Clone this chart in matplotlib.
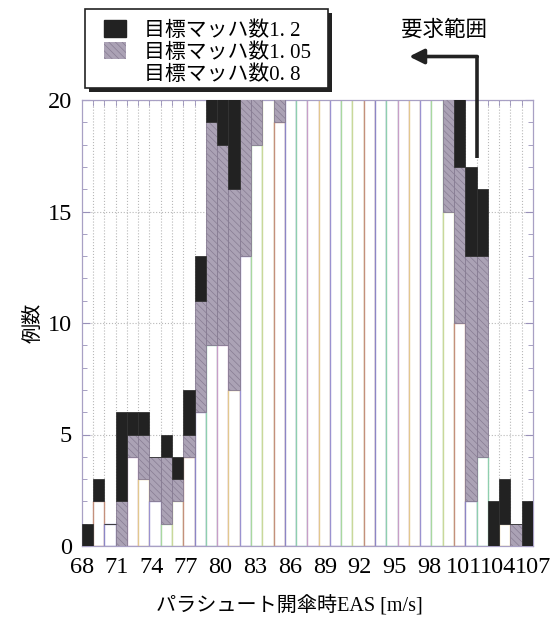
import numpy as np
import matplotlib
matplotlib.use('Agg')
import matplotlib.pyplot as plt
from matplotlib.patches import Patch, Rectangle

# EAS bins [m/s]
eas = list(range(68, 108))

# counts per bin, stacked: Mach 0.8 (bottom), 1.05 (middle), 1.2 (top)
mach08 = [0, 2, 1, 0, 4, 3, 2, 1, 2, 4,
          6, 9, 9, 7, 13, 18, 21, 19, 23, 28,
          33, 38, 42, 45, 46, 44, 41, 37, 32, 27,
          24, 21, 15, 10, 2, 4, 0, 1, 0, 0]
mach105 = [0, 0, 0, 2, 1, 2, 2, 3, 1, 1,
           5, 10, 9, 9, 8, 3, 0, 2, 0, 0,
           0, 0, 0, 0, 0, 0, 0, 0, 0, 0,
           0, 0, 6, 7, 11, 9, 0, 0, 1, 0]
mach12 = [1, 1, 0, 4, 1, 1, 0, 1, 1, 2,
          2, 2, 3, 5, 0, 0, 0, 0, 0, 0,
          0, 0, 0, 0, 0, 0, 0, 0, 0, 0,
          0, 0, 0, 4, 4, 3, 2, 2, 0, 2]

labels = ['目標マッハ数1. 2', '目標マッハ数1. 05', '目標マッハ数0. 8']
xticks = list(range(68, 108, 3))

plt.rcParams['font.family'] = ['Liberation Serif', 'Noto Sans CJK JP']
plt.rcParams['hatch.linewidth'] = 0.5

W, H = 555, 619
fig = plt.figure(figsize=(W / 100, H / 100), dpi=100)
ax = fig.add_axes([81.7 / W, 1 - 546 / H, (533 - 81.7) / W, (546 - 100) / H])

edges = np.linspace(eas[0], eas[-1], len(eas) + 1)
centers = (edges[:-1] + edges[1:]) / 2
width = edges[1] - edges[0]

white = np.array(mach08)
gray = np.array(mach105)
black = np.array(mach12)

edge_cycle = ['#c9d89a', '#c4907c', '#8c86c6', '#8fcfae', '#c89ec8',
              '#e2c88e', '#9a92d0', '#a8d8a0']
ecols = [edge_cycle[i % len(edge_cycle)] for i in range(len(eas))]

gray_fc = '#aba2b5'
gray_ec = '#877c93'

ax.bar(centers, white, width, color='white', edgecolor=ecols, lw=1.0, zorder=2)
ax.bar(centers, gray, width, bottom=white, color=gray_fc, edgecolor=gray_ec,
       hatch='\\\\\\\\\\', lw=0.6, zorder=3)
ax.bar(centers, black, width, bottom=white + gray, color='#222222',
       edgecolor='#333333', lw=0.6, zorder=4)

ax.set_xlim(edges[0], edges[-1])
ax.set_ylim(0, 20)
ax.set_xticks(xticks)
ax.set_xticks(edges, minor=True)
ax.set_yticks([0, 5, 10, 15, 20])
ax.set_yticks(range(0, 21), minor=True)
ax.tick_params(axis='x', which='major', length=0, labelsize=17.5, pad=8)
ax.tick_params(axis='x', which='minor', direction='in', length=4, top=True,
               bottom=True, color='#9890b8')
ax.tick_params(axis='y', which='both', direction='in', left=True, right=True,
               color='#9890b8', labelsize=17.5, pad=7)
ax.tick_params(axis='y', which='major', length=6)
ax.tick_params(axis='y', which='minor', length=3.5)
ax.set_axisbelow(True)
ax.grid(which='minor', axis='x', ls=':', color='#b8b8b8', lw=0.8)
ax.grid(which='major', axis='y', ls=':', color='#b8b8b8', lw=0.8)
for sp in ax.spines.values():
    sp.set_color('#a8a0c4')
    sp.set_linewidth(0.9)

ax.set_xlabel('パラシュート開傘時EAS [m/s]', fontsize=14.5)
ax.xaxis.set_label_coords(0.46, -0.113)
ax.set_ylabel('例数', fontsize=14.5)
ax.yaxis.set_label_coords(-0.085, 0.5)

# required range annotation
ax.plot([edges[35], edges[35]], [17.4, 21.95], color='#222222', lw=2.6,
        clip_on=False, zorder=6, solid_capstyle='butt')
ax.annotate('', xy=(96.3, 21.95), xytext=(edges[35] + 0.06, 21.95),
            arrowprops=dict(arrowstyle='-|>', lw=2.6, color='#222222',
                            mutation_scale=22, shrinkA=0, shrinkB=0),
            annotation_clip=False, zorder=6)
ax.text(99.3, 23.1, '要求範囲', fontsize=15.5, ha='center', va='center',
        clip_on=False)

# legend box with shadow
fig.patches.append(Rectangle((89 / W, 1 - 92 / H), (328 - 85) / W, (88 - 9) / H,
                             transform=fig.transFigure, fc='#222222', ec='none',
                             zorder=3))
fig.patches.append(Rectangle((85 / W, 1 - 88 / H), (328 - 85) / W, (88 - 9) / H,
                             transform=fig.transFigure, fc='white', ec='#222222',
                             lw=1.2, zorder=4))
handles = [Patch(fc='#222222', ec='#222222'),
           Patch(fc=gray_fc, ec=gray_ec, hatch='\\\\\\\\\\', lw=0),
           Patch(fc='white', ec='none')]
fig.legend(handles, labels, loc='upper left', bbox_to_anchor=(104 / W, 1 - 20 / H),
           frameon=False, handlelength=1.05, handleheight=0.85, handletextpad=0.85,
           labelspacing=0.08, borderpad=0, borderaxespad=0, fontsize=15)

fig.savefig('out.png', dpi=100)
